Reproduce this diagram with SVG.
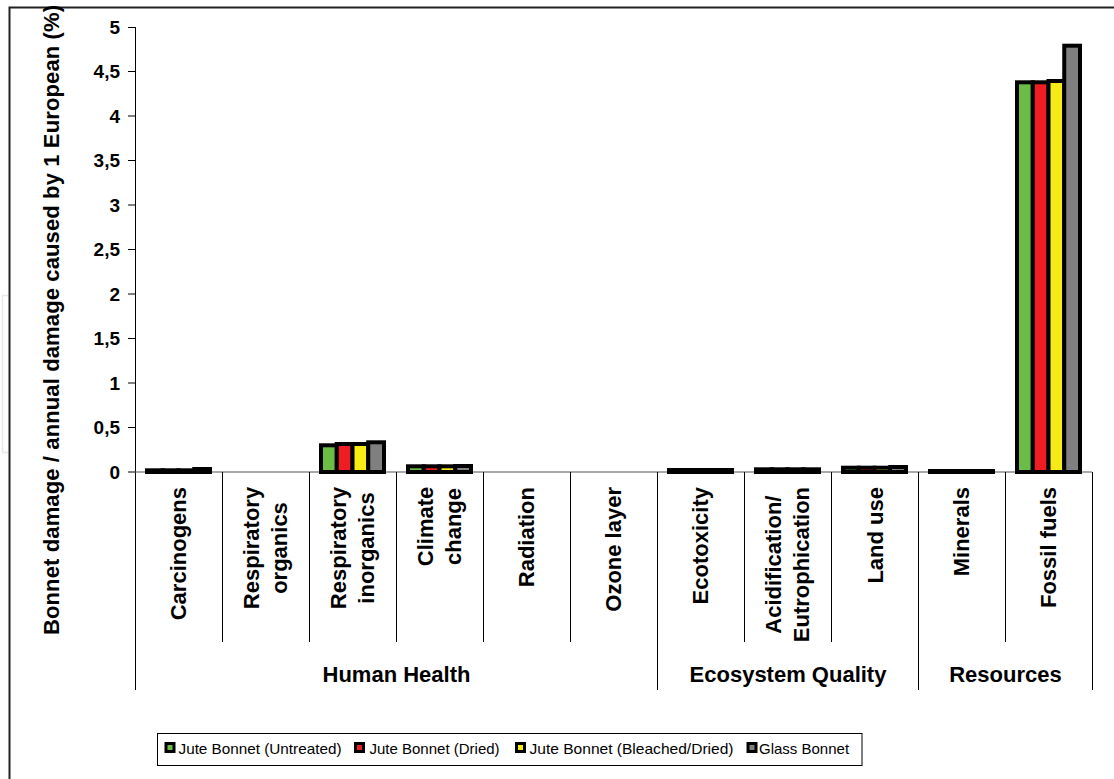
<svg xmlns="http://www.w3.org/2000/svg" width="1114" height="779" viewBox="0 0 1114 779">
<style>
text{font-family:"Liberation Sans",Arial,sans-serif;fill:#000}
.b{font-weight:bold;font-size:22px}
.tick{font-weight:bold;font-size:19px;text-anchor:end}
.leg{font-size:15px}
.ln{stroke:#000;stroke-width:1;fill:none}
.bar{stroke:#000;stroke-width:4}
.g{fill:#6cbd45}.r{fill:#ee1d23}.y{fill:#f6eb14}.k{fill:#808080}
</style>
<rect x="0" y="0" width="1114" height="779" fill="#fff"/>
<path d="M8,295.5 H2.5 V452.5 H8" fill="none" stroke="#e8e8e8" stroke-width="1.5"/>
<path d="M9.5,779 V7.5 H1114" fill="none" stroke="#222" stroke-width="2"/>

<g id="y-axis">
<text class="b" transform="translate(59,635) rotate(-90)" textLength="630" lengthAdjust="spacing">Bonnet damage / annual damage caused by 1 European (%)</text>
<path class="ln" d="M135.5,27 V690 M128,27.5 H135 M128,71.5 H135 M128,116 H135 M128,160.5 H135 M128,205 H135 M128,249.5 H135 M128,294 H135 M128,338.5 H135 M128,383 H135 M128,427.5 H135 M128,472 H135"/>
<text class="tick" x="120" y="34">5</text>
<text class="tick" x="120" y="78">4,5</text>
<text class="tick" x="120" y="123">4</text>
<text class="tick" x="120" y="167">3,5</text>
<text class="tick" x="120" y="212">3</text>
<text class="tick" x="120" y="256">2,5</text>
<text class="tick" x="120" y="301">2</text>
<text class="tick" x="120" y="345">1,5</text>
<text class="tick" x="120" y="390">1</text>
<text class="tick" x="120" y="434">0,5</text>
<text class="tick" x="120" y="479">0</text>
</g>

<g id="x-axis">
<path d="M135,472 H1092" stroke="#555" stroke-width="1.2" fill="none"/>
<path class="ln" d="M222.5,472 V642 M309.5,472 V642 M396.5,472 V642 M483.5,472 V642 M570.5,472 V642 M744.5,472 V642 M831.5,472 V642 M1005.5,472 V642 M657.5,472 V690 M918.5,472 V690 M1092.5,472 V690"/>
</g>

<g id="bars">
<g id="carcinogens">
<rect class="bar g" x="147" y="470.3" width="15.75" height="1.7"/>
<rect class="bar r" x="162.75" y="470.3" width="15.75" height="1.7"/>
<rect class="bar y" x="178.5" y="470.3" width="15.75" height="1.7"/>
<rect class="bar k" x="194.25" y="469" width="15.75" height="3"/>
</g>
<g id="resp-inorganics">
<rect class="bar g" x="321" y="445.3" width="15.75" height="26.7"/>
<rect class="bar r" x="336.75" y="444" width="15.75" height="28"/>
<rect class="bar y" x="352.5" y="444" width="15.75" height="28"/>
<rect class="bar k" x="368.25" y="442.3" width="15.75" height="29.7"/>
</g>
<g id="climate">
<rect class="bar g" x="408" y="466.3" width="15.75" height="5.7"/>
<rect class="bar r" x="423.75" y="466.3" width="15.75" height="5.7"/>
<rect class="bar y" x="439.5" y="466.3" width="15.75" height="5.7"/>
<rect class="bar k" x="455.25" y="466" width="15.75" height="6"/>
</g>
<g id="ecotox">
<rect class="bar g" x="669" y="470" width="15.75" height="2"/>
<rect class="bar r" x="684.75" y="470" width="15.75" height="2"/>
<rect class="bar y" x="700.5" y="470" width="15.75" height="2"/>
<rect class="bar k" x="716.25" y="470" width="15.75" height="2"/>
</g>
<g id="acid">
<rect class="bar g" x="756" y="469.3" width="15.75" height="2.7"/>
<rect class="bar r" x="771.75" y="469.3" width="15.75" height="2.7"/>
<rect class="bar y" x="787.5" y="469.3" width="15.75" height="2.7"/>
<rect class="bar k" x="803.25" y="469.3" width="15.75" height="2.7"/>
</g>
<g id="landuse">
<rect class="bar g" x="843" y="467.7" width="15.75" height="4.3"/>
<rect class="bar r" x="858.75" y="467.7" width="15.75" height="4.3"/>
<rect class="bar y" x="874.5" y="467.7" width="15.75" height="4.3"/>
<rect class="bar k" x="890.25" y="467" width="15.75" height="5"/>
</g>
<g id="minerals">
<rect class="bar g" x="930" y="471" width="15.75" height="1"/>
<rect class="bar r" x="945.75" y="471" width="15.75" height="1"/>
<rect class="bar y" x="961.5" y="471" width="15.75" height="1"/>
<rect class="bar k" x="977.25" y="471" width="15.75" height="1"/>
</g>
<g id="fossil">
<rect class="bar g" x="1017" y="82.3" width="15.75" height="389.7"/>
<rect class="bar r" x="1032.75" y="82.3" width="15.75" height="389.7"/>
<rect class="bar y" x="1048.5" y="81" width="15.75" height="391"/>
<rect class="bar k" x="1064.25" y="45.7" width="15.75" height="426.3"/>
</g>
</g>

<g id="category-labels" class="b">
<text class="b" transform="translate(186,487) rotate(-90)" text-anchor="end">Carcinogens</text>
<text class="b" transform="translate(258.5,548) rotate(-90)" text-anchor="middle">Respiratory</text>
<text class="b" transform="translate(286.5,548) rotate(-90)" text-anchor="middle">organics</text>
<text class="b" transform="translate(345.5,548) rotate(-90)" text-anchor="middle">Respiratory</text>
<text class="b" transform="translate(373.5,548) rotate(-90)" text-anchor="middle">inorganics</text>
<text class="b" transform="translate(432.5,526.5) rotate(-90)" text-anchor="middle">Climate</text>
<text class="b" transform="translate(460.5,526.5) rotate(-90)" text-anchor="middle">change</text>
<text class="b" transform="translate(534,487) rotate(-90)" text-anchor="end">Radiation</text>
<text class="b" transform="translate(621,487) rotate(-90)" text-anchor="end">Ozone layer</text>
<text class="b" transform="translate(708,487) rotate(-90)" text-anchor="end">Ecotoxicity</text>
<text class="b" transform="translate(780.5,564.6) rotate(-90)" text-anchor="middle">Acidification/</text>
<text class="b" transform="translate(809,564.6) rotate(-90)" text-anchor="middle">Eutrophication</text>
<text class="b" transform="translate(883,487) rotate(-90)" text-anchor="end">Land use</text>
<text class="b" transform="translate(969,487) rotate(-90)" text-anchor="end">Minerals</text>
<text class="b" transform="translate(1056,487) rotate(-90)" text-anchor="end">Fossil fuels</text>
</g>

<g id="group-labels">
<text class="b" x="396.5" y="682" text-anchor="middle">Human Health</text>
<text class="b" x="788" y="682" text-anchor="middle">Ecosystem Quality</text>
<text class="b" x="1005.5" y="682" text-anchor="middle">Resources</text>
</g>

<g id="legend">
<rect x="157.5" y="733.5" width="704.5" height="32" fill="#fff" stroke="#000" stroke-width="1"/>
<rect x="164.5" y="742" width="11" height="11" fill="#000"/>
<rect x="167.5" y="745" width="5" height="5" class="g"/>
<text class="leg" x="178.5" y="754" textLength="163" lengthAdjust="spacingAndGlyphs">Jute Bonnet (Untreated)</text>
<rect x="354" y="742" width="11" height="11" fill="#000"/>
<rect x="357" y="745" width="5" height="5" class="r"/>
<text class="leg" x="369.5" y="754">Jute Bonnet (Dried)</text>
<rect x="515" y="742" width="11" height="11" fill="#000"/>
<rect x="518" y="745" width="5" height="5" class="y"/>
<text class="leg" x="529.5" y="754" textLength="204" lengthAdjust="spacingAndGlyphs">Jute Bonnet (Bleached/Dried)</text>
<rect x="746.5" y="742" width="11" height="11" fill="#000"/>
<rect x="749.5" y="745" width="5" height="5" class="k"/>
<text class="leg" x="759" y="754">Glass Bonnet</text>
</g>
</svg>
